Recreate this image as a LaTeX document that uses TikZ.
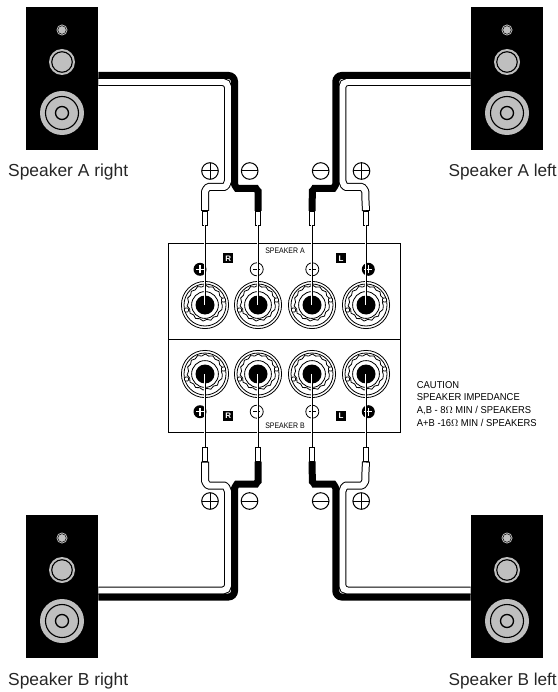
\documentclass[tikz,border=0pt]{standalone}
\usepackage{fontspec}
\setmainfont{Liberation Sans}
\newfontfamily\panelfont[FakeStretch=0.87]{Liberation Sans}
\newfontfamily\cautionfont[FakeStretch=0.94]{Liberation Sans}
\usetikzlibrary{calc}
\usetikzlibrary{decorations.pathmorphing}
\definecolor{conegray}{gray}{0.75}
\tikzset{
	cabinet/.style={rectangle, fill=black, inner sep=0, minimum width=72.5pt, minimum height=143pt},
	cone/.style={circle, fill=conegray, inner sep=0},
	conering/.style={circle, draw=black, line width=1.1pt, inner sep=0},
	speakerlabel/.style={anchor=base west, inner sep=0, font=\fontsize{17.4}{20}\selectfont, text=black!85},
	sidelabel/.style={speakerlabel, font=\fontsize{17.2}{20}\selectfont},
	blackwire/.style={draw=black, line width=7pt, rounded corners=6pt},
	whitewire/.style={draw=black, line width=8pt, rounded corners=5pt, postaction={draw=white, line width=6pt, shorten >=1pt}},
	ferrule/.style={rectangle, draw=black, fill=white, line width=.8pt, inner sep=0, minimum width=5pt, minimum height=14pt},
	pinwire/.style={draw=black, line width=1pt, preaction={draw=white, line width=2.2pt}},
	postcap/.style={circle, fill=black, inner sep=0, minimum size=19pt},
	postring/.style={draw=black, line width=.8pt},
	knurl/.style={draw=black, line width=.8pt, decorate, decoration={snake, segment length=7.5pt, amplitude=.8pt}},
	knurlpad/.style={rectangle, draw=black, fill=white, line width=.7pt, rounded corners=1pt, inner sep=0, minimum size=4pt},
	signbase/.style={circle, draw=black, line width=1pt, inner sep=0, minimum size=16.6pt},
	plussign/.style={signbase, path picture={
		\draw[line width=1pt] (path picture bounding box.west) -- (path picture bounding box.east);
		\draw[line width=1pt] (path picture bounding box.north) -- (path picture bounding box.south);}},
	minussign/.style={signbase, path picture={
		\draw[line width=1pt] (path picture bounding box.west) -- (path picture bounding box.east);}},
	panelplus/.style={circle, fill=black, inner sep=0, minimum size=13pt, path picture={
		\draw[white, line width=1.4pt] ($(path picture bounding box.center)+(-4pt,0)$) -- ($(path picture bounding box.center)+(4pt,0)$);
		\draw[white, line width=1.4pt] ($(path picture bounding box.center)+(0,-4pt)$) -- ($(path picture bounding box.center)+(0,4pt)$);}},
	panelminus/.style={circle, draw=black, line width=.8pt, inner sep=0, minimum size=13pt, path picture={
		\draw[line width=.9pt] ($(path picture bounding box.center)+(-3.5pt,0)$) -- ($(path picture bounding box.center)+(3.5pt,0)$);}},
	channel/.style={rectangle, fill=black, text=white, inner sep=0, minimum size=10pt, font=\fontsize{8}{8}\selectfont\bfseries},
	paneltext/.style={inner sep=0, font=\panelfont\fontsize{8}{8}\selectfont},
	caution/.style={anchor=north west, align=left, inner sep=0, font=\cautionfont\fontsize{10}{12.7}\selectfont},
	mirrored/.style 2 args={xshift=285.15pt, yshift=-336.25pt, xscale=#1, yscale=#2, xshift=-285.15pt, yshift=336.25pt}
}
\newcommand{\speaker}[3]{
	\node[cabinet] (#1) at (#2,#3) {};
	\node[cone, minimum size=11pt] (#1tw) at ($(#1)+(0,-48.5)$) {};
	\node[conering, line width=.5pt, minimum size=8.5pt] at (#1tw) {};
	\node[cone, minimum size=26pt] (#1mid) at ($(#1)+(0,-16.5)$) {};
	\node[conering, minimum size=20.5pt] at (#1mid) {};
	\node[cone, minimum size=44pt] (#1wf) at ($(#1)+(0,34.5)$) {};
	\node[conering, minimum size=33pt] at (#1wf) {};
	\node[conering, line width=1.3pt, minimum size=13pt] at (#1wf) {};
}
\newcommand{\bindingpost}[3]{
	\node[postcap] (#1) at (#2,#3) {};
	\draw[postring] (#1) circle (23.6pt);
	\draw[postring] (#1) circle (21pt);
	\draw[knurl] (#1) circle (17.2pt);
	\draw[postring] (#1) circle (13.4pt);
	\node[knurlpad] at ($(#1)+(18.5pt,5pt)$) {};
	\node[knurlpad] at ($(#1)+(-18.5pt,-5pt)$) {};
}
\newcommand{\speakerwires}[5]{
	\begin{scope}[mirrored={#4}{#5}]
	\path[whitewire] (#1 |- 0,82) -- (228,82) -- (228,176)
		.. controls (228,184) and (225,187) .. (219,187) -- (214,187)
		.. controls (207,187) and (205,191) .. (205,197) -- (#2 |- 0,211);
	\path[blackwire] (#1 |- 0,75.5) -- (234.5,75.5) -- (234.5,178)
		.. controls (234.5,185) and (237,188.5) .. (243,188.5) -- (250,188.5)
		.. controls (255.5,188.5) and (258,191) .. (258,197) -- (#3 |- 0,211);
	\node[ferrule] (#2f) at (#2 |- 0,218) {};
	\node[ferrule] (#3f) at (#3 |- 0,218) {};
	\end{scope}
	\draw[pinwire] (#2f) -- (#2.center);
	\draw[pinwire] (#3f) -- (#3.center);
}

\begin{document}
\begin{tikzpicture}[x=1pt, y=-1pt]
\useasboundingbox (0,0) rectangle (557,692);

\speaker{spkar}{62}{78.5}
\speaker{spkal}{507}{78.5}
\speaker{spkbr}{62}{586.5}
\speaker{spkbl}{507}{586.5}

\node[speakerlabel] (labelar) at (8,177) {Speaker A right};
\node[sidelabel] (labelal) at (448.5,177) {Speaker A left};
\node[speakerlabel] (labelbr) at (8,685.5) {Speaker B right};
\node[sidelabel] (labelbl) at (448.5,685.5) {Speaker B left};

\draw[line width=1pt, fill=white] (168.3,244) rectangle (400.7,432.7);
\draw[line width=1pt] (168.3,339.3) -- (400.7,339.3);

\node[paneltext] (titlea) at (285,251) {SPEAKER A};
\node[paneltext] (titleb) at (285,426) {SPEAKER B};
\node[channel] (chatopr) at (228.3,258.3) {R};
\node[channel] (chatopl) at (341,258.3) {L};
\node[channel] (chbotr) at (228.3,416) {R};
\node[channel] (chbotl) at (341,416) {L};

\node[panelplus] (markar) at (200,269.3) {};
\node[panelminus] (markam) at (256.7,269.3) {};
\node[panelminus] (markbm) at (312.3,269.3) {};
\node[panelplus] (markbp) at (368.3,269.3) {};
\node[panelplus] (markcp) at (200,411.7) {};
\node[panelminus] (markcm) at (256.7,411.7) {};
\node[panelminus] (markdm) at (312.3,411.7) {};
\node[panelplus] (markdp) at (368.3,411.7) {};

\bindingpost{posta}{205}{305}
\bindingpost{postb}{258}{305}
\bindingpost{postc}{312}{305}
\bindingpost{postd}{366}{305}
\bindingpost{poste}{205}{374}
\bindingpost{postf}{258}{374}
\bindingpost{postg}{312}{374}
\bindingpost{posth}{366}{374}

\speakerwires{spkar.east}{posta}{postb}{1}{1}
\speakerwires{spkal.west}{postd}{postc}{-1}{1}
\speakerwires{spkbr.east}{poste}{postf}{1}{-1}
\speakerwires{spkbl.west}{posth}{postg}{-1}{-1}

\node[plussign] (signap) at (210,171) {};
\node[minussign] (signam) at (249.7,171) {};
\node[minussign] (signbm) at (320.7,171) {};
\node[plussign] (signbp) at (361.5,171) {};
\node[plussign] (signcp) at (210,501) {};
\node[minussign] (signcm) at (249.5,501) {};
\node[minussign] (signdm) at (320.7,501) {};
\node[plussign] (signdp) at (361.2,501) {};

\node[caution] (cautiontext) at (416.7,381) {CAUTION\\SPEAKER IMPEDANCE\\A,B - 8$\Omega$ MIN / SPEAKERS\\A+B -16$\Omega$ MIN / SPEAKERS};

\end{tikzpicture}
\end{document}
